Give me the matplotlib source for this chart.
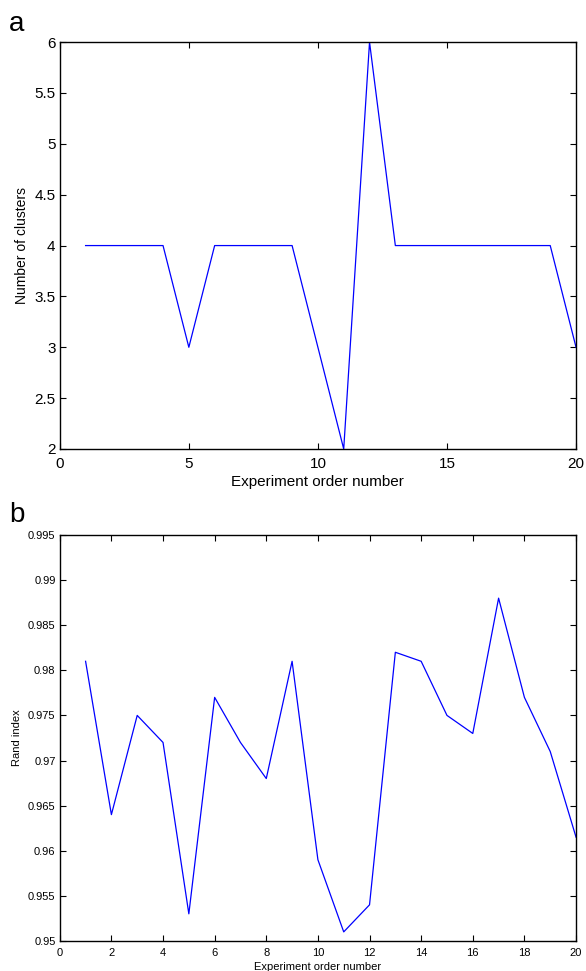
import matplotlib
matplotlib.use("Agg")
import matplotlib.pyplot as plt

plt.rcParams['font.family'] = ['Liberation Sans', 'DejaVu Sans']

experiments = list(range(1, 21))
n_clusters = [4, 4, 4, 4, 3, 4, 4, 4, 4, 3, 2, 6, 4, 4, 4, 4, 4, 4, 4, 3]
rand_index = [0.981, 0.964, 0.975, 0.972, 0.953, 0.977, 0.972, 0.968, 0.981, 0.959,
              0.951, 0.954, 0.982, 0.981, 0.975, 0.973, 0.988, 0.977, 0.971, 0.9615]

fig = plt.figure(figsize=(5.86, 9.71), dpi=100)

ax1 = fig.add_axes([0.102, 0.5376, 0.881, 0.419])
ax1.plot(experiments, n_clusters, color='#0000ff', lw=0.9)
ax1.set_xlim(0, 20)
ax1.set_ylim(2, 6)
ax1.set_xticks([0, 5, 10, 15, 20])
ax1.set_yticks([2, 2.5, 3, 3.5, 4, 4.5, 5, 5.5, 6])
ax1.set_yticklabels(['2', '2.5', '3', '3.5', '4', '4.5', '5', '5.5', '6'])
ax1.tick_params(direction='in', top=True, right=True, labelsize=11, length=4, pad=3)
ax1.tick_params(axis='x', pad=6)
ax1.set_xlabel("Experiment order number", fontsize=11, labelpad=3)
ax1.set_ylabel("Number of clusters", fontsize=10, labelpad=4)
fig.text(0.015, 0.975, "a", fontsize=20, va='center')

ax2 = fig.add_axes([0.102, 0.031, 0.881, 0.418])
ax2.plot(experiments, rand_index, color='#0000ff', lw=0.9)
ax2.set_xlim(0, 20)
ax2.set_ylim(0.95, 0.995)
ax2.set_xticks(range(0, 21, 2))
ax2.set_yticks([0.95, 0.955, 0.96, 0.965, 0.97, 0.975, 0.98, 0.985, 0.99, 0.995])
ax2.set_yticklabels(['0.95', '0.955', '0.96', '0.965', '0.97', '0.975', '0.98', '0.985', '0.99', '0.995'])
ax2.tick_params(direction='in', top=True, right=True, labelsize=8, length=4, pad=3)
ax2.tick_params(axis='x', pad=5)
ax2.set_xlabel("Experiment order number", fontsize=8, labelpad=3)
ax2.set_ylabel("Rand index", fontsize=8, labelpad=4)
fig.text(0.015, 0.47, "b", fontsize=20, va='center')

for ax in (ax1, ax2):
    for s in ax.spines.values():
        s.set_linewidth(1.0)

fig.savefig("out.png", dpi=100)
